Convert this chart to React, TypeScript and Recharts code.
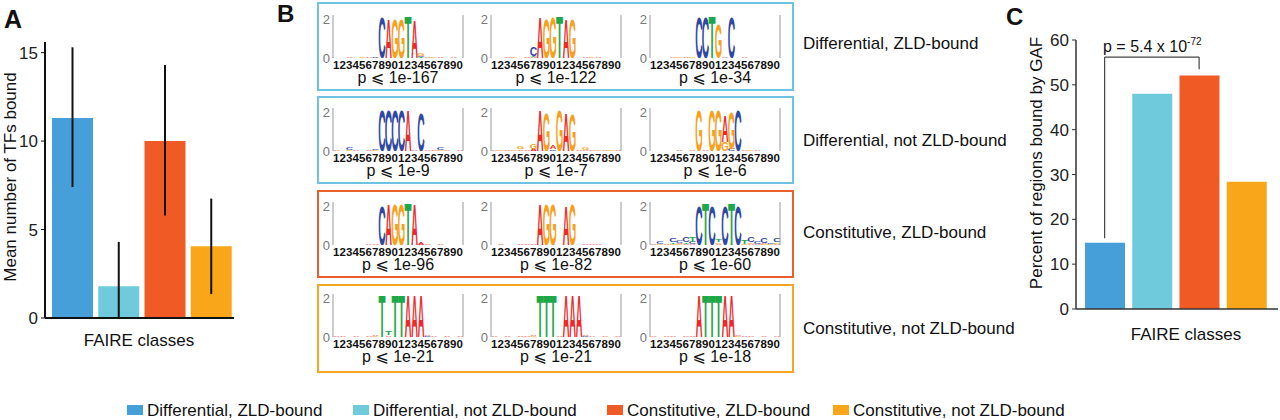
import React from 'react';
import { BarChart, Bar, XAxis, YAxis, Cell, ErrorBar, ReferenceLine } from 'recharts';

// FAIRE classes shared by all panels
const classNames = [
  'Differential, ZLD-bound',
  'Differential, not ZLD-bound',
  'Constitutive, ZLD-bound',
  'Constitutive, not ZLD-bound',
];
const classColors = ['#479fd9', '#6fcbdc', '#f05a24', '#f9a61b'];
const boxColors = ['#6ec3e0', '#6ec3e0', '#e8602c', '#f5a623'];

// Panel A: mean number of TFs bound (+/- error)
const meanTFs = [11.3, 1.8, 10.0, 4.05];
const meanTFsErr = [
  [3.9, 4.0],
  [1.8, 2.5],
  [4.2, 4.3],
  [2.7, 2.7],
];
const tfTicks = [0, 5, 10, 15];

// Panel C: percent of regions bound by GAF
const pctGAF = [14.8, 48.0, 52.1, 28.4];
const gafTicks = [0, 10, 20, 30, 40, 50, 60];
const bracketLeftY = 15.8;
const bracketTopY = 56.2;
const bracketRightY = 53.5;

// Panel B: sequence logos, 20 positions each, letters stacked bottom -> top with bits
const logoDiffZld1 = ['', '', 'A.03', '', 'G.04', 'A.03', 'C.05', 'C1.9', 'A1.85', 'G1.85', 'G1.85', 'T1.95', 'A1.8', 'T.03C.04G.1', 'A.04', 'G.03', 'A.03', '', 'A.03', ''];
const logoDiffZld2 = ['', '', 'A.03', 'G.03', '', 'A.04', 'A.05T.06C.45', 'A1.9', 'G1.85', 'G1.9', 'T1.95', 'A1.85', 'G1.85', '', 'A.03', 'G.04', 'A.03', '', '', ''];
const logoDiffZld3 = ['', '', '', 'A.03', 'G.05', 'A.05', 'G.03', 'C1.9', 'C1.9', 'T1.95', 'G1.6', 'A.04', 'C1.9', '', 'A.03', '', '', '', '', ''];
const logoDiffNot1 = ['A.03', 'A.02', 'G.06C.1', 'A.03', 'A.02', 'A.03', 'G.05C.08', 'C1.9', 'C1.9', 'C1.9', 'C1.9', 'A1.9', 'A.03', 'C1.8', 'A.05', 'A.03', 'G.06C.1', 'A.03', 'A.02', 'A.05'];
const logoDiffNot2 = ['A.05', 'G.04', 'A.05', 'G.04', 'A.08G.12', 'A.06', 'A.1G.22', 'A1.9', 'G1.8', 'C.08A.15', 'G1.9', 'A1.8', 'G1.75', 'A.05', 'A.06G.12', 'A.05', 'G.04', 'A.04', 'G.04', 'A.05'];
const logoDiffNot3 = ['', '', 'A.02', '', 'A.03', '', 'A.03', 'G1.9', 'A.03', 'G1.9', 'G1.9', 'G.4A1.2', 'C.1G1.7', 'C1.9', 'A.03', 'G.03', 'A.03', '', '', ''];
const logoConsZld1 = ['', '', '', 'A.02', '', 'A.03', 'A.06', 'C1.85', 'A1.9', 'G1.9', 'G1.9', 'T1.95', 'A1.9', 'A.12', 'A.04', 'A.02', 'A.03', '', 'A.02', ''];
const logoConsZld2 = ['A.02', 'A.03', 'A.02', '', 'A.03', 'A.05', 'A.06', 'A1.9', 'G1.9', 'G1.9', 'A.02', 'A1.85', 'G1.9', '', 'A.03', 'A.05', 'A.03', '', 'A.02', ''];
const logoConsZld3 = ['A.05', 'G.05C.12', 'A.05', 'G.06T.06C.2', 'G.05A.06C.12', 'A.05T.08C.25', 'A.06C.1T.25', 'C1.85', 'T1.95', 'C1.85', 'A.06G.06T.12', 'C1.85', 'T1.95', 'C1.85', 'G.06T.2', 'A.06G.06C.25', 'A.05C.1', 'G.06A.05C.25', 'G.05C.08', 'A.06G.06C.2'];
const logoConsNot1 = ['A.03', 'A.03', 'G.02', 'A.03', 'A.02', 'A.03', 'G.03A.04', 'T1.95', 'A.08T.2', 'T1.95', 'T1.95', 'A1.95', 'A1.95', 'A1.95', 'C.04A.08', 'A.03', 'A.02', 'A.03', 'A.02', 'A.03'];
const logoConsNot2 = ['A.03', 'A.02', 'A.03', 'A.02', 'A.03', 'A.03', 'G.04A.08', 'T1.95', 'T1.95', 'T1.95', 'A.03', 'A1.95', 'A1.95', 'A1.95', 'C.04A.08', 'A.03', 'A.02', 'A.03', 'A.02', 'A.03'];
const logoConsNot3 = ['A.03', 'A.02', 'A.03', 'A.03', 'A.02', 'A.03', 'A.04', 'A1.95', 'T1.95', 'T1.95', 'T1.95', 'A1.95', 'A1.95', 'G.03A.08', 'A.06', 'A.03', 'A.02', 'A.03', 'A.02', 'A.03'];

const logoGrid = [
  [logoDiffZld1, logoDiffZld2, logoDiffZld3],
  [logoDiffNot1, logoDiffNot2, logoDiffNot3],
  [logoConsZld1, logoConsZld2, logoConsZld3],
  [logoConsNot1, logoConsNot2, logoConsNot3],
];
const logoPvals = [
  ['1e-167', '1e-122', '1e-34'],
  ['1e-9', '1e-7', '1e-6'],
  ['1e-96', '1e-82', '1e-60'],
  ['1e-21', '1e-21', '1e-18'],
];

const letterColors: Record<string, string> = { A: '#ec2a2c', C: '#2f48a3', G: '#f6a01c', T: '#1fa84a' };
// ink box of bold glyphs at font-size 100: left bearing and ink width
const letterInk: Record<string, [number, number]> = { A: [0.5, 71], C: [4, 64], G: [4.2, 69], T: [2.2, 57] };

const FONT = '"Liberation Sans", Arial, "DejaVu Sans", sans-serif';

// layout of panel B
const logoLefts = [333, 491, 650];
const logoBaselines = [58, 151, 245, 337];
const boxTops = [2, 96, 190, 284];
const boxHeights = [89, 88, 88, 89];
const rowLabelY = [43, 140, 232, 328];

function Letter(props: any) {
  const { x, y, width, height, letter } = props;
  if (!letter || !(height > 0.4)) return null;
  const [lsb, ink] = letterInk[letter];
  const sx = (width * 0.94) / ink;
  const sy = height / 71.6;
  return (
    <text
      x={0}
      y={0}
      fontSize={100}
      fontWeight="bold"
      fill={letterColors[letter]}
      transform={`translate(${x + width * 0.03 - lsb * sx},${y + height}) scale(${sx},${sy})`}
    >
      {letter}
    </text>
  );
}

function Logo({ cols, left, baseline, p }: { cols: string[]; left: number; baseline: number; p: string }) {
  const data = cols.map((s, i) => {
    const row: any = { idx: i + 1 };
    const parts = [...s.matchAll(/([ACGT])([\d.]+)/g)];
    for (let k = 0; k < 4; k++) {
      row['l' + k] = parts[k] ? parts[k][1] : '';
      row['h' + k] = parts[k] ? parseFloat(parts[k][2]) : 0;
    }
    return row;
  });

  return (
    <>
      <div style={{ position: 'absolute', left: left - 16, top: baseline - 47 }}>
        <BarChart
          width={150}
          height={63}
          data={data}
          margin={{ top: 4, right: 4, bottom: 0, left: 0 }}
          barCategoryGap={0}
          barGap={0}
        >
          <XAxis
            dataKey="idx"
            interval={0}
            axisLine={false}
            tickLine={false}
            tickSize={0}
            tickMargin={3}
            height={16}
            tick={{ fontSize: 11.5, fontWeight: 'bold', fill: '#111' }}
            tickFormatter={(v) => String(Number(v) % 10)}
          />
          <YAxis
            domain={[0, 2]}
            ticks={[0, 2]}
            width={16}
            allowDataOverflow
            axisLine={{ stroke: '#999', strokeWidth: 1 }}
            tickLine={false}
            tickSize={0}
            tickMargin={3}
            tick={{ fontSize: 13, fill: '#777' }}
          />
          <ReferenceLine x={20} position="end" stroke="#999" strokeWidth={1} />
          {[0, 1, 2, 3].map((k) => (
            <Bar
              key={k}
              dataKey={'h' + k}
              stackId="s"
              isAnimationActive={false}
              shape={(pr: any) => <Letter {...pr} letter={pr.payload['l' + k]} />}
            />
          ))}
        </BarChart>
      </div>
      <div
        style={{
          position: 'absolute',
          left,
          width: 130,
          top: baseline + 12,
          fontSize: 16,
          lineHeight: '16px',
          textAlign: 'center',
          color: '#111',
          whiteSpace: 'nowrap',
        }}
      >
        p ⩽ {p}
      </div>
    </>
  );
}

export default function App() {
  const dataA = classNames.map((name, i) => ({ name: 'c' + i, v: meanTFs[i], err: meanTFsErr[i] }));
  const dataC = classNames.map((name, i) => ({ name: 'c' + i, v: pctGAF[i] }));

  return (
    <div
      style={{
        position: 'absolute',
        left: 0,
        top: 0,
        width: 1280,
        height: 420,
        background: '#fff',
        fontFamily: FONT,
        overflow: 'hidden',
      }}
    >
      {/* Panel A */}
      <div style={{ position: 'absolute', left: 0, top: 0 }}>
        <BarChart width={240} height={360} data={dataA} margin={{ top: 42, right: 6, bottom: 0, left: 0 }}>
          <XAxis
            dataKey="name"
            tick={false}
            tickLine={false}
            height={42}
            padding={{ left: 4, right: 0 }}
            axisLine={{ stroke: '#111', strokeWidth: 2 }}
          />
          <YAxis
            domain={[0, 15.6]}
            ticks={tfTicks}
            width={45}
            axisLine={{ stroke: '#111', strokeWidth: 2 }}
            tickLine={{ stroke: '#111' }}
            tickSize={4}
            tickMargin={3}
            tick={{ fontSize: 17, fill: '#222' }}
          />
          <Bar dataKey="v" barSize={41} isAnimationActive={false}>
            {dataA.map((d, i) => (
              <Cell key={i} fill={classColors[i]} />
            ))}
            <ErrorBar dataKey="err" width={0} stroke="#111" strokeWidth={2} />
          </Bar>
        </BarChart>
      </div>

      {/* Panel B boxes */}
      {boxTops.map((t, r) => (
        <div
          key={r}
          style={{
            position: 'absolute',
            left: 317,
            top: t,
            width: 477,
            height: boxHeights[r],
            border: `2px solid ${boxColors[r]}`,
            boxSizing: 'border-box',
          }}
        />
      ))}
      {logoGrid.map((row, r) =>
        row.map((cols, c) => (
          <Logo key={r + '-' + c} cols={cols} left={logoLefts[c]} baseline={logoBaselines[r]} p={logoPvals[r][c]} />
        ))
      )}

      {/* Panel C */}
      <div style={{ position: 'absolute', left: 990, top: 0 }}>
        <BarChart width={290} height={360} data={dataC} margin={{ top: 40, right: 2, bottom: 0, left: 0 }}>
          <XAxis
            dataKey="name"
            tick={false}
            tickLine={false}
            height={51}
            padding={{ left: 5, right: 8 }}
            axisLine={{ stroke: '#333', strokeWidth: 1.5 }}
          />
          <YAxis
            domain={[0, 60]}
            ticks={gafTicks}
            width={86}
            axisLine={{ stroke: '#333', strokeWidth: 1.5 }}
            tickLine={{ stroke: '#333' }}
            tickSize={4}
            tickMargin={3}
            tick={{ fontSize: 17, fill: '#222' }}
          />
          <Bar dataKey="v" barSize={40} isAnimationActive={false}>
            {dataC.map((d, i) => (
              <Cell key={i} fill={classColors[i]} />
            ))}
          </Bar>
          <ReferenceLine segment={[{ x: 'c0', y: bracketLeftY }, { x: 'c0', y: bracketTopY }]} stroke="#444" strokeWidth={1.2} />
          <ReferenceLine segment={[{ x: 'c0', y: bracketTopY }, { x: 'c2', y: bracketTopY }]} stroke="#444" strokeWidth={1.2} />
          <ReferenceLine segment={[{ x: 'c2', y: bracketTopY }, { x: 'c2', y: bracketRightY }]} stroke="#444" strokeWidth={1.2} />
        </BarChart>
      </div>

      {/* Text overlay */}
      <svg width={1280} height={420} style={{ position: 'absolute', left: 0, top: 0, pointerEvents: 'none' }}>
        <g fontFamily={FONT} fill="#111">
          <text x={4} y={28} fontSize={25} fontWeight="bold">A</text>
          <text x={277} y={22} fontSize={24} fontWeight="bold">B</text>
          <text x={1006} y={25} fontSize={24} fontWeight="bold">C</text>

          <text x={10} y={177} fontSize={17} textAnchor="middle" dominantBaseline="central" transform="rotate(-90 10 177)">
            Mean number of TFs bound
          </text>
          <text x={139} y={340} fontSize={17} textAnchor="middle" dominantBaseline="central">FAIRE classes</text>

          <text x={1036} y={163} fontSize={17} textAnchor="middle" dominantBaseline="central" transform="rotate(-90 1036 163)">
            Percent of regions bound by GAF
          </text>
          <text x={1186} y={334} fontSize={17} textAnchor="middle" dominantBaseline="central">FAIRE classes</text>
          <text x={1103} y={52} fontSize={16}>
            p = 5.4 x 10<tspan fontSize={10} dy={-7}>-72</tspan>
          </text>

          {classNames.map((n, i) => (
            <text key={n} x={803} y={rowLabelY[i]} fontSize={17} dominantBaseline="central">{n}</text>
          ))}
        </g>

        {/* legend */}
        <g fontFamily={FONT} fontSize={17} fill="#111">
          {classNames.map((n, i) => {
            const tx = [147, 373, 627, 853][i];
            return (
              <g key={n}>
                <rect x={tx - 20} y={405} width={16} height={10} fill={classColors[i]} />
                <text x={tx} y={410} dominantBaseline="central">{n}</text>
              </g>
            );
          })}
        </g>
      </svg>
    </div>
  );
}
